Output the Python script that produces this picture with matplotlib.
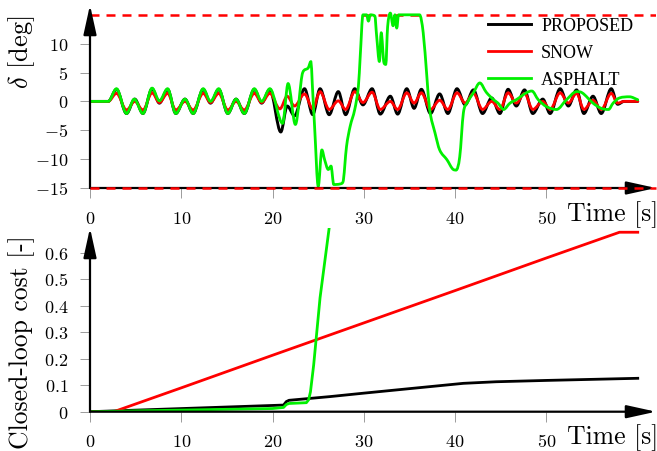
import matplotlib
matplotlib.use("Agg")
import matplotlib.pyplot as plt
from matplotlib.font_manager import FontProperties
from matplotlib.path import Path
from matplotlib.patches import PathPatch

# steering angle delta [deg] (time, value)
t_prop = [0, 2.0, 2.9, 4.0, 4.9, 5.8, 6.8, 7.6, 8.5, 9.4, 10.4, 11.3, 12.4, 13.2,
          14.1, 15.1, 16.0, 16.9, 18.0, 18.8, 19.7, 20.9, 21.6, 22.4, 23.5, 24.4,
          25.2, 26.2, 27.2, 28.0, 29.0, 29.9, 30.9, 31.8, 32.9, 33.7, 34.7, 35.5,
          36.3, 37.3, 38.3, 39.2, 40.2, 41.1, 42.0, 43.0, 44.0, 44.9, 45.8, 46.7,
          47.6, 48.5, 49.6, 50.4, 51.5, 52.4, 53.3, 54.1, 55.1, 56.0, 57.1, 57.8,
          58.5, 60.0]
d_prop = [0, 0, 2.1, -2.1, 0.4, -2.1, 2.2, -0.3, 2.1, -2.1, 0.4, -2.1, 2.1, -0.3,
          2.1, -2.1, 0.4, -2.1, 2.1, -0.3, 2.1, -5.3, -0.8, -2.5, 2.2, -2.3,
          2.2, -2.3, 1.7, -2.3, 2.2, -0.6, 2.2, -2.2, 0.9, -2.2, 2.2, -1.2,
          2.1, -2.1, 1.3, -2.1, 2.2, -0.6, 2.0, -2.1, 0.6, -2.1, 2.1, -0.8,
          2.0, -2.1, 0.4, -2.1, 2.2, -0.8, 2.0, -2.1, 0.9, -2.1, 2.2, -0.5,
          0.0, 0.0]

t_snow = [0, 2.0, 2.9, 4.0, 4.9, 5.8, 6.8, 7.6, 8.5, 9.4, 10.4, 11.3, 12.4, 13.2,
          14.1, 15.1, 16.0, 16.9, 18.0, 18.8, 19.7, 20.8, 21.6, 22.4, 23.5, 24.4,
          25.2, 26.2, 27.2, 28.0, 29.0, 29.9, 30.9, 31.8, 32.9, 33.7, 34.7, 35.5,
          36.3, 37.3, 38.3, 39.2, 40.2, 41.1, 42.0, 43.0, 44.0, 44.9, 45.8, 46.7,
          47.6, 48.5, 49.6, 50.4, 51.5, 52.4, 53.3, 54.1, 55.1, 56.0, 57.1, 57.8,
          58.5, 60.0]
d_snow = [0, 0, 1.4, -1.5, 0.0, -1.5, 1.5, -0.2, 1.4, -1.5, 0.0, -1.5, 1.4, -0.2,
          1.4, -1.5, 0.0, -1.5, 1.4, -0.2, 1.4, -1.3, 0.9, -0.8, 1.3, -1.3,
          1.7, -1.4, 0.1, -1.4, 1.7, -0.2, 1.6, -1.4, 0.0, -1.4, 1.5, -0.3,
          1.5, -1.4, 0.2, -1.4, 1.5, -0.3, 1.4, -1.4, 0.0, -1.4, 1.5, -0.3,
          1.4, -1.4, 0.0, -1.4, 1.5, -0.3, 1.4, -1.4, 0.2, -1.4, 1.4, -0.3,
          0.0, 0.0]

t_asph = [0, 2.0, 2.9, 4.0, 4.85, 5.8, 6.8, 7.6, 8.5, 9.4, 10.4, 11.3, 12.4, 13.2,
          14.1, 15.1, 16.0, 16.9, 18.0, 18.8, 19.7, 21.1, 21.7, 22.5, 23.3, 23.9,
          24.2, 24.35, 24.6, 25.0, 25.4, 25.7, 26.1, 26.4, 26.7, 27.4, 27.7, 28.1,
          28.5, 29.0, 29.4, 29.6, 29.9, 30.3, 30.5, 30.7, 31.2, 31.4, 31.7, 31.9,
          32.2, 32.4, 32.6, 32.9, 33.2, 33.4, 33.6, 33.8, 36.1, 36.5, 36.9, 37.2,
          37.8, 38.3, 39.1, 39.8, 40.1, 40.5, 40.9, 41.3, 42.0, 42.7, 43.4, 44.2,
          44.7, 45.3, 46.0, 46.7, 47.8, 48.4, 49.1, 50.0, 51.1, 52.2, 53.3, 53.9,
          55.1, 56.0, 56.8, 57.3, 58.0, 59.1, 60.0]
d_asph = [0, 0, 2.2, -2.1, 0.4, -2.1, 2.3, 0.1, 2.2, -2.1, 0.4, -2.1, 2.2, 0.0,
          2.2, -2.1, 0.4, -2.1, 2.2, 0.0, 2.2, -3.8, 3.1, -4.0, 5.0, 5.8,
          6.9, 3.0, -4.3, -14.7, -8.4, -10.1, -11.8, -11.2, -14.4, -14.3, -14.0, -7.8,
          -4.3, -1.4, 2.6, 7.8, 15.0, 15.0, 13.9, 15.0, 14.8, 11.3, 6.9, 11.9,
          6.7, 6.4, 12.9, 15.3, 13.1, 15.0, 12.7, 15.0, 15.0, 11.9, 4.3, -1.4,
          -5.5, -8.4, -10.1, -11.8, -11.9, -9.6, -2.0, -0.3, 1.5, 3.2, 1.6, 0.3,
          -0.3, -1.4, -0.3, 0.3, 1.5, 1.8, 0.3, -0.9, -1.4, 0.3, 1.7, 1.5,
          -0.3, -1.2, -1.4, -0.3, 0.6, 0.8, 0.3]

# closed-loop cost [-]
tc_prop = [0, 21.2, 21.5, 21.8, 26.3, 30.0, 35.0, 40.9, 44.5, 50.0, 60.0]
c_prop = [0, 0.025, 0.038, 0.043, 0.057, 0.070, 0.087, 0.107, 0.113, 0.118, 0.126]
tc_snow = [0, 2.6, 10.0, 20.0, 30.0, 40.0, 50.0, 58.0, 60.0]
c_snow = [0, 0, 0.09, 0.213, 0.335, 0.457, 0.58, 0.677, 0.677]
tc_asph = [0, 20.0, 21.2, 21.5, 21.8, 23.7, 23.95, 24.15, 24.5, 25.2, 26.3]
c_asph = [0, 0.012, 0.016, 0.027, 0.031, 0.034, 0.045, 0.075, 0.176, 0.43, 0.72]

delta_limit = 15
xticks = [0, 10, 20, 30, 40, 50]
xlabels = ["$0$", "$10$", "$20$", "$30$", "$40$", "$50$"]
yticks_top = [-15, -10, -5, 0, 5, 10]
ylabels_top = ["$-15$", "$-10$", "$-5$", "$0$", "$5$", "$10$"]
yticks_bot = [0, 0.1, 0.2, 0.3, 0.4, 0.5, 0.6]
ylabels_bot = ["$0$", "$0.1$", "$0.2$", "$0.3$", "$0.4$", "$0.5$", "$0.6$"]

GREEN = "#00f000"
plt.rcParams["mathtext.fontset"] = "cm"
W, H = 657, 451
fig = plt.figure(figsize=(W / 100, H / 100), dpi=100)
ax1 = fig.add_axes([90 / W, (H - 188) / H, 566 / W, 183 / H])
ax2 = fig.add_axes([90 / W, (H - 411.7) / H, 566 / W, 183.7 / H])


def smooth(ax, t, v, **kw):
    # smooth bezier line through the read points (like pgfplots "smooth")
    n = len(t)
    m = []
    for i in range(n):
        if i == 0:
            m.append((v[1] - v[0]) / (t[1] - t[0]))
        elif i == n - 1:
            m.append((v[-1] - v[-2]) / (t[-1] - t[-2]))
        else:
            a = (v[i] - v[i - 1]) / (t[i] - t[i - 1])
            b = (v[i + 1] - v[i]) / (t[i + 1] - t[i])
            if a * b <= 0:
                m.append(0.0)
            else:
                s = (v[i + 1] - v[i - 1]) / (t[i + 1] - t[i - 1])
                lim = 3 * min(abs(a), abs(b))
                m.append(max(-lim, min(lim, s)))
    verts = [(t[0], v[0])]
    codes = [Path.MOVETO]
    for i in range(n - 1):
        h = (t[i + 1] - t[i]) / 3
        verts += [(t[i] + h, v[i] + h * m[i]),
                  (t[i + 1] - h, v[i + 1] - h * m[i + 1]),
                  (t[i + 1], v[i + 1])]
        codes += [Path.CURVE4] * 3
    ax.add_patch(PathPatch(Path(verts, codes), fill=False, capstyle="round",
                           joinstyle="round", **kw))


def style_axis(ax, yticks, ylabels):
    for s in ax.spines.values():
        s.set_visible(False)
    ax.set_xlim(0, 62)
    ax.set_xticks(xticks)
    ax.set_xticklabels(xlabels)
    ax.set_yticks(yticks)
    ax.set_yticklabels(ylabels)
    ax.tick_params(direction="out", length=7.5, width=0.6, color="0.55",
                   labelsize=13, pad=8)
    arrow = dict(arrowstyle="-|>,head_length=1.0,head_width=0.22", lw=1.6,
                 color="k", mutation_scale=18, shrinkA=0, shrinkB=0)
    ax.annotate("", xy=(1, 0), xytext=(0, 0), xycoords="axes fraction",
                arrowprops=arrow, zorder=5)
    ax.annotate("", xy=(0, 1), xytext=(0, 0), xycoords="axes fraction",
                arrowprops=arrow, zorder=5)
    ax.annotate("Time [s]", xy=(52.2, 0), xycoords=("data", "axes fraction"),
                xytext=(0, -23.6), textcoords="offset points", ha="left",
                va="baseline", family="cmr10", fontsize=18.5)


style_axis(ax1, yticks_top, ylabels_top)
ax1.set_ylim(-15, 16.7)
ax1.axhline(delta_limit, color="red", lw=1.8, ls=(0, (3.6, 2.8)), zorder=1)
ax1.axhline(-delta_limit, color="red", lw=1.8, ls=(0, (3.6, 2.8)), zorder=6,
            clip_on=False)
smooth(ax1, t_prop, d_prop, edgecolor="black", lw=2.1, zorder=2)
smooth(ax1, t_snow, d_snow, edgecolor="red", lw=2.0, zorder=2.1)
smooth(ax1, t_asph, d_asph, edgecolor=GREEN, lw=2.0, zorder=2.2)
ax1.plot([], [], color="black", lw=2.1, label="PROPOSED")
ax1.plot([], [], color="red", lw=2.0, label="SNOW")
ax1.plot([], [], color=GREEN, lw=2.0, label="ASPHALT")
ax1.legend(loc="upper left", bbox_to_anchor=(0.703, 0.93), frameon=False,
           prop=FontProperties(family="Liberation Serif", size=13),
           handlelength=2.4, handletextpad=0.55, labelspacing=0.55,
           borderpad=0, borderaxespad=0)

style_axis(ax2, yticks_bot, ylabels_bot)
ax2.set_ylim(0, 0.693)
ax2.plot(tc_prop, c_prop, color="black", lw=2.0, zorder=2)
ax2.plot(tc_snow, c_snow, color="red", lw=2.0, zorder=2.1)
ax2.plot(tc_asph, c_asph, color=GREEN, lw=2.0, zorder=2.2)

fig.text(22 / W, 1 - 52 / H, r"$\delta$ [deg]", rotation=90, ha="center",
         va="center", family="cmr10", fontsize=19)
fig.text(22 / W, 1 - 342 / H, "Closed-loop cost [-]", rotation=90, ha="center",
         va="center", family="cmr10", fontsize=18.5)

fig.savefig("out.png", dpi=100)
